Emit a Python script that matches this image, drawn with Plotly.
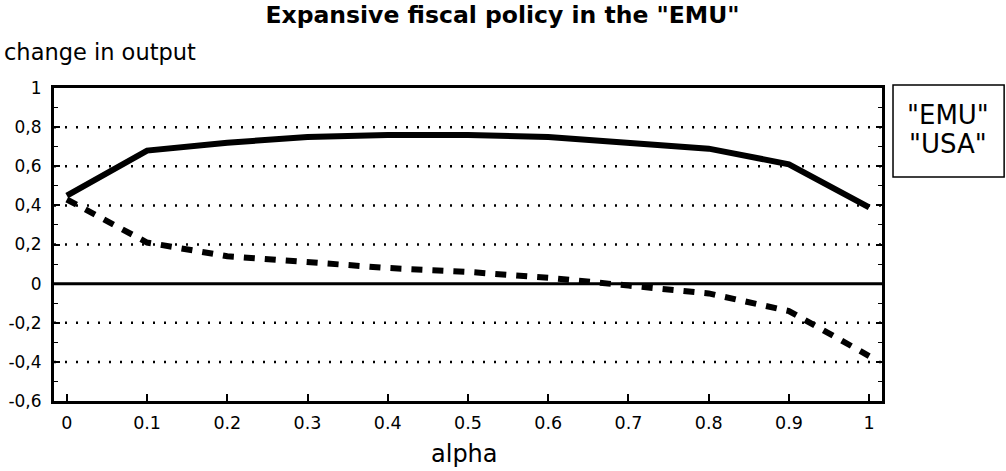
import plotly.graph_objects as go

alpha = [0, 0.1, 0.2, 0.3, 0.4, 0.5, 0.6, 0.7, 0.8, 0.9, 1.0]
emu = [0.45, 0.68, 0.72, 0.75, 0.76, 0.76, 0.75, 0.72, 0.69, 0.61, 0.39]
usa = [0.43, 0.21, 0.14, 0.11, 0.08, 0.06, 0.03, -0.01, -0.05, -0.14, -0.37]

y_tickvals = [1, 0.8, 0.6, 0.4, 0.2, 0, -0.2, -0.4, -0.6]
y_ticktext = ["1", "0,8", "0,6", "0,4", "0,2", "0", "-0,2", "-0,4", "-0,6"]
x_tickvals = [0, 0.1, 0.2, 0.3, 0.4, 0.5, 0.6, 0.7, 0.8, 0.9, 1]
x_ticktext = ["0", "0.1", "0.2", "0.3", "0.4", "0.5", "0.6", "0.7", "0.8", "0.9", "1"]
grid_levels = [0.8, 0.6, 0.4, 0.2, -0.2, -0.4]
legend_names = ['"EMU"', '"USA"']

FONT = "DejaVu Sans, Arial, Helvetica, sans-serif"

fig = go.Figure()
fig.add_trace(go.Scatter(x=alpha, y=emu, mode="lines", name=legend_names[0],
                         line=dict(color="black", width=6)))
fig.add_trace(go.Scatter(x=alpha, y=usa, mode="lines", name=legend_names[1],
                         line=dict(color="black", width=6, dash="11px,10px")))

# dotted gridlines
for g in grid_levels:
    fig.add_shape(type="line", xref="paper", x0=0, x1=1, yref="y", y0=g, y1=g,
                  line=dict(color="black", width=2.5, dash="2px,9px"), layer="below")
# zero line
fig.add_shape(type="line", xref="paper", x0=0, x1=1, yref="y", y0=0, y1=0,
              line=dict(color="black", width=3))

# legend box (text only, as in the original)
fig.add_shape(type="rect", xref="paper", yref="paper", x0=1.0133, x1=1.1475,
              y0=0.7157, y1=1.0096, line=dict(color="black", width=1.5))
fig.add_annotation(xref="paper", yref="paper", x=1.080, y=0.914, text=legend_names[0],
                   showarrow=False, xanchor="center", yanchor="middle",
                   font=dict(family=FONT, size=26, color="black"))
fig.add_annotation(xref="paper", yref="paper", x=1.080, y=0.821, text=legend_names[1],
                   showarrow=False, xanchor="center", yanchor="middle",
                   font=dict(family=FONT, size=26, color="black"))

# y axis title at top-left
fig.add_annotation(xref="paper", yref="paper", x=-0.0625, y=1.067, xanchor="left",
                   yanchor="bottom", text="change in output", showarrow=False,
                   font=dict(family=FONT, size=22.5, color="black"))

# x axis title
fig.add_annotation(xref="paper", yref="paper", x=0.4955, y=-0.169, xanchor="center",
                   yanchor="middle", text="alpha", showarrow=False,
                   font=dict(family=FONT, size=24, color="black"))

fig.update_layout(
    width=1006, height=471,
    margin=dict(l=54, r=124, t=88, b=70),
    paper_bgcolor="white", plot_bgcolor="white",
    showlegend=False,
    title=dict(text='<b>Expansive fiscal policy in the "EMU"</b>', x=0.4995, xanchor="center",
               y=0.968, yanchor="middle", font=dict(family=FONT, size=23.5, color="black")),
    font=dict(family=FONT, color="black"),
    xaxis=dict(range=[-0.016, 1.016], tickvals=x_tickvals, ticktext=x_ticktext,
               automargin=False,
               showgrid=False, zeroline=False, showline=True, linecolor="black",
               linewidth=3, mirror=True, ticks="inside", ticklen=7, tickwidth=1.5,
               tickcolor="black", tickfont=dict(family=FONT, size=17.5),
               ticklabelstandoff=4),
    yaxis=dict(range=[-0.6, 1.0], tickvals=y_tickvals, ticktext=y_ticktext,
               automargin=False,
               showgrid=False, zeroline=False, showline=True, linecolor="black",
               linewidth=3, mirror="ticks", ticks="inside", ticklen=6, tickwidth=1.5,
               tickcolor="black", tickfont=dict(family=FONT, size=17),
               ticklabelstandoff=6,
               minor=dict(dtick=0.1, ticks="inside", ticklen=4, tickwidth=1.2,
                          tickcolor="black")),
)

# remove the default page margin so the 1006x471 figure fills the window exactly
fig.write_html("out.html", config={"displayModeBar": False},
               post_script="document.body.style.margin='0';")
